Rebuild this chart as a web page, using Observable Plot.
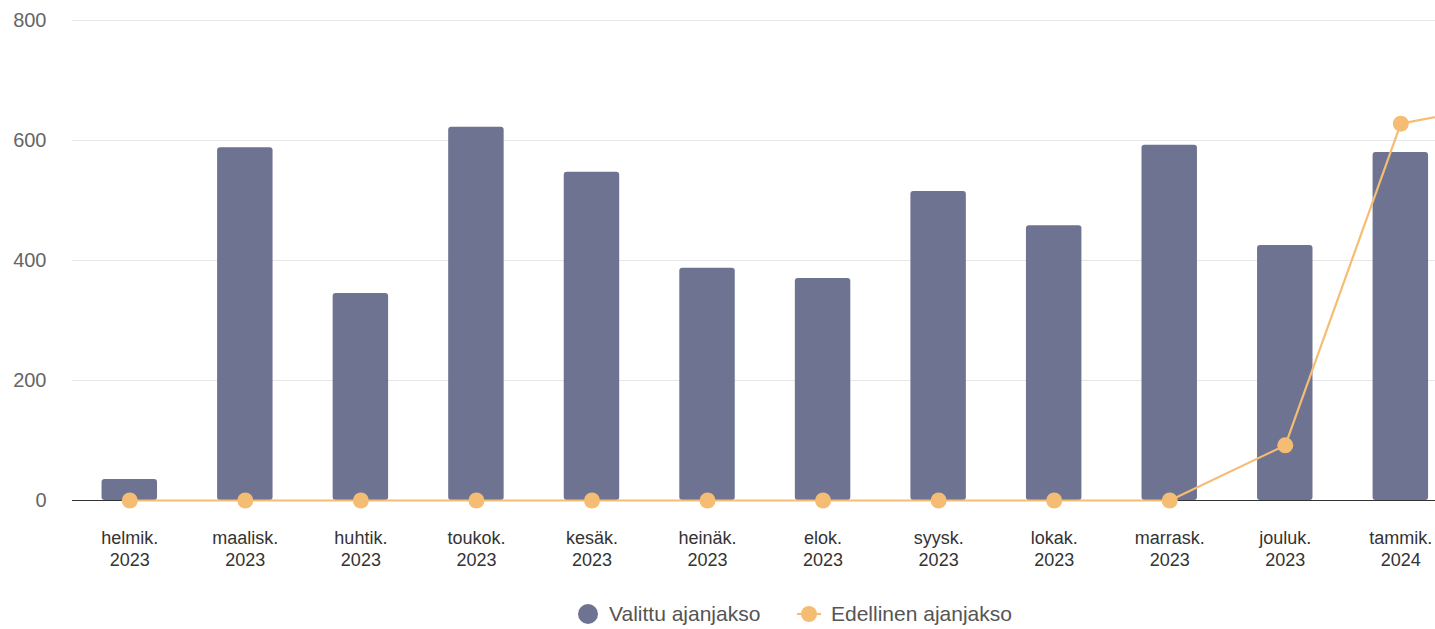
<!DOCTYPE html>
<html>
<head>
<meta charset="utf-8">
<script src="https://cdn.jsdelivr.net/npm/d3@7"></script>
<script src="https://cdn.jsdelivr.net/npm/@observablehq/plot@0.6"></script>
<style>
  html, body { margin: 0; padding: 0; background: #fff; overflow: hidden; }
  body { width: 1435px; height: 629px; position: relative; font-family: "Liberation Sans", Arial, sans-serif; }
  #legend { position: absolute; left: 0; top: 600px; width: 1435px; height: 28px; font-size: 21px; color: #555; }
  .item { position: absolute; top: 0; height: 28px; display: flex; align-items: center; }
  .item span { margin-left: 10px; }
</style>
</head>
<body>
<div id="chart"></div>
<div id="legend"></div>
<script>
const months = ["helmik.\n2023","maalisk.\n2023","huhtik.\n2023","toukok.\n2023","kesäk.\n2023","heinäk.\n2023","elok.\n2023","syysk.\n2023","lokak.\n2023","marrask.\n2023","jouluk.\n2023","tammik.\n2024","helmik.\n2024"];
const selected = [35, 588, 345, 622, 547, 387, 370, 515, 458, 592, 425, 580];
const previous = [0, 0, 0, 0, 0, 0, 0, 0, 0, 0, 92, 628, 665];
const seriesNames = ["Valittu ajanjakso", "Edellinen ajanjakso"];
const yTicks = [0, 200, 400, 600, 800];

const barColor = "#6e7391";
const lineColor = "#f5bd73";

const bars = selected.map((v, i) => ({month: months[i], value: v}));
const line = previous.map((v, i) => ({month: months[i], value: v}));

const step = 115.55;
const left = 71.5;

const plot = Plot.plot({
  width: 1435,
  height: 580,
  marginTop: 20,
  marginBottom: 80,
  marginLeft: 72,
  marginRight: 0,
  style: {fontFamily: "Liberation Sans, Arial, sans-serif", background: "#fff"},
  x: {type: "band", domain: months, range: [left, left + step * months.length], paddingInner: 0.52, paddingOuter: 0.26, round: false},
  y: {domain: [0, 800], range: [500, 20]},
  marks: [
    Plot.ruleY(yTicks.filter(d => d > 0), {stroke: "#e6e6e6", strokeWidth: 1}),
    Plot.barY(bars, {x: "month", y: "value", fill: barColor, rx: 3}),
    Plot.ruleY([0], {stroke: "#333", strokeWidth: 1.2}),
    Plot.line(line, {x: "month", y: "value", stroke: lineColor, strokeWidth: 2.2}),
    Plot.dot(line, {x: "month", y: "value", fill: lineColor, r: 8}),
    Plot.axisY({ticks: yTicks, tickSize: 0, tickPadding: 26, fontSize: 20, color: "#666", label: null}),
    Plot.axisX({ticks: months.slice(0, 12), tickSize: 0, tickPadding: 28, fontSize: 18, color: "#333", lineHeight: 1.22, label: null})
  ]
});
document.getElementById("chart").appendChild(plot);

const legend = document.getElementById("legend");
legend.innerHTML = `
  <div class="item" style="left:578px"><svg width="20" height="20"><circle cx="10" cy="10" r="10" fill="${barColor}"/></svg><span style="margin-left:11px">${seriesNames[0]}</span></div>
  <div class="item" style="left:797px"><svg width="24" height="20"><line x1="0" y1="10" x2="24" y2="10" stroke="${lineColor}" stroke-width="2"/><circle cx="12" cy="10" r="8" fill="${lineColor}"/></svg><span>${seriesNames[1]}</span></div>`;
</script>
</body>
</html>
